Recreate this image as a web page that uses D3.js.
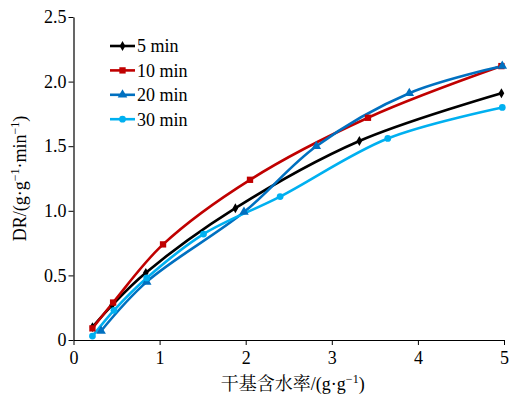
<!DOCTYPE html>
<html>
<head>
<meta charset="utf-8">
<script src="https://cdn.jsdelivr.net/npm/d3@7"></script>
<style>
  html, body { margin: 0; padding: 0; background: #fff; }
  svg { display: block; }
  svg text { font-family: "Liberation Serif", "Times New Roman", serif; }
</style>
</head>
<body>
<svg id="chart" width="509" height="397"></svg>
<script>
// Drying rate vs dry-basis moisture content, one series per drying time
const seriesNames = ["5 min", "10 min", "20 min", "30 min"];
const moisture5 = [0.22, 0.45, 0.84, 1.88, 3.32, 4.97];
const rate5     = [0.10, 0.27, 0.52, 1.02, 1.54, 1.91];
const moisture10 = [0.22, 0.46, 1.04, 2.05, 3.42, 4.97];
const rate10     = [0.09, 0.29, 0.74, 1.24, 1.72, 2.12];
const moisture20 = [0.32, 0.85, 1.98, 2.82, 3.90, 4.98];
const rate20     = [0.07, 0.45, 0.99, 1.50, 1.91, 2.12];
const moisture30 = [0.22, 0.47, 0.85, 1.51, 2.40, 3.65, 4.98];
const rate30     = [0.03, 0.23, 0.48, 0.82, 1.11, 1.56, 1.80];
const xTicks = [0, 1, 2, 3, 4, 5];
const yTicks = [0, 0.5, 1.0, 1.5, 2.0, 2.5];
const yTickLabels = ["0", "0.5", "1.0", "1.5", "2.0", "2.5"];

const colors = ["#000000", "#C00000", "#0070C0", "#00B0F0"];
const symbols = [d3.symbolDiamond, d3.symbolSquare, d3.symbolTriangle, d3.symbolCircle];
const symbolSizes = [28, 40, 40, 36];

const series = [
  [moisture5, rate5], [moisture10, rate10], [moisture20, rate20], [moisture30, rate30]
].map(([xs, ys], i) => ({
  name: seriesNames[i],
  points: xs.map((x, j) => ({ x, y: ys[j] }))
}));

const svg = d3.select("#chart");
const margin = { left: 73.5, right: 5, top: 17, bottom: 57 };
const W = 509, H = 397;
const serif = "'Liberation Serif', 'Times New Roman', serif";

const x = d3.scaleLinear().domain([0, 5]).range([margin.left, W - margin.right]);
const y = d3.scaleLinear().domain([0, 2.5]).range([H - margin.bottom, margin.top]);

// Axes
const xAxis = svg.append("g")
  .attr("transform", `translate(0,${y(0)})`)
  .call(d3.axisBottom(x).tickValues(xTicks).tickFormat(d3.format("d")).tickSize(5).tickSizeOuter(0));
const yAxis = svg.append("g")
  .attr("transform", `translate(${x(0)},0)`)
  .call(d3.axisLeft(y).tickValues(yTicks).tickFormat((d, i) => yTickLabels[i]).tickSize(5).tickSizeOuter(0));

[xAxis, yAxis].forEach(g => {
  g.attr("font-family", null).attr("font-size", null);
  g.select(".domain").attr("stroke", "#000").attr("stroke-width", 1.2);
  g.selectAll(".tick line").attr("stroke", "#000").attr("stroke-width", 1);
  g.selectAll(".tick text")
    .attr("fill", "#000")
    .style("font-family", serif)
    .style("font-size", "18px");
});
xAxis.selectAll(".tick text").attr("dy", "0.95em").attr("y", 7);
yAxis.selectAll(".tick text").attr("x", -7);

// Curves
const line = d3.line()
  .x(d => x(d.x))
  .y(d => y(d.y))
  .curve(d3.curveCatmullRom.alpha(0.5));

const plot = svg.append("g");
series.forEach((s, i) => {
  plot.append("path")
    .datum(s.points)
    .attr("fill", "none")
    .attr("stroke", colors[i])
    .attr("stroke-width", 2.6)
    .attr("d", line);
});
series.forEach((s, i) => {
  plot.selectAll(null)
    .data(s.points)
    .enter()
    .append("path")
    .attr("transform", d => `translate(${x(d.x)},${y(d.y)})`)
    .attr("d", d3.symbol().type(symbols[i]).size(symbolSizes[i]))
    .attr("fill", colors[i]);
});

// Legend
const legend = svg.append("g").attr("transform", "translate(110,46)");
seriesNames.forEach((name, i) => {
  const row = legend.append("g").attr("transform", `translate(0,${i * 24.4})`);
  row.append("line")
    .attr("x1", 0).attr("x2", 25).attr("y1", 0).attr("y2", 0)
    .attr("stroke", colors[i]).attr("stroke-width", 2.6);
  row.append("path")
    .attr("transform", "translate(12.5,0)")
    .attr("d", d3.symbol().type(symbols[i]).size(symbolSizes[i]))
    .attr("fill", colors[i]);
  row.append("text")
    .attr("x", 27).attr("y", 0).attr("dy", "0.35em")
    .style("font-family", serif)
    .style("font-size", "18px")
    .attr("fill", "#000")
    .text(name);
});

// Axis titles
const xTitle = svg.append("text")
  .attr("x", (x(0) + x(5)) / 2 + 4)
  .attr("y", 390)
  .attr("text-anchor", "middle")
  .style("font-family", serif)
  .style("font-size", "18px")
  .attr("fill", "#000");
xTitle.append("tspan").style("font-family", "'Noto Serif CJK SC', 'Noto Sans CJK SC', serif").text("干基含水率");
xTitle.append("tspan").text("/(g·g");
xTitle.append("tspan").attr("dy", -7).style("font-size", "12px").text("−1");
xTitle.append("tspan").attr("dy", 7).text(")");

const yTitle = svg.append("text")
  .attr("transform", `translate(26,${(y(0) + y(2.5)) / 2}) rotate(-90)`)
  .attr("text-anchor", "middle")
  .style("font-family", serif)
  .style("font-size", "18px")
  .attr("fill", "#000");
yTitle.append("tspan").text("DR/(g·g");
yTitle.append("tspan").attr("dy", -7).style("font-size", "12px").text("−1");
yTitle.append("tspan").attr("dy", 7).text("·min");
yTitle.append("tspan").attr("dy", -7).style("font-size", "12px").text("−1");
yTitle.append("tspan").attr("dy", 7).text(")");
</script>
</body>
</html>
